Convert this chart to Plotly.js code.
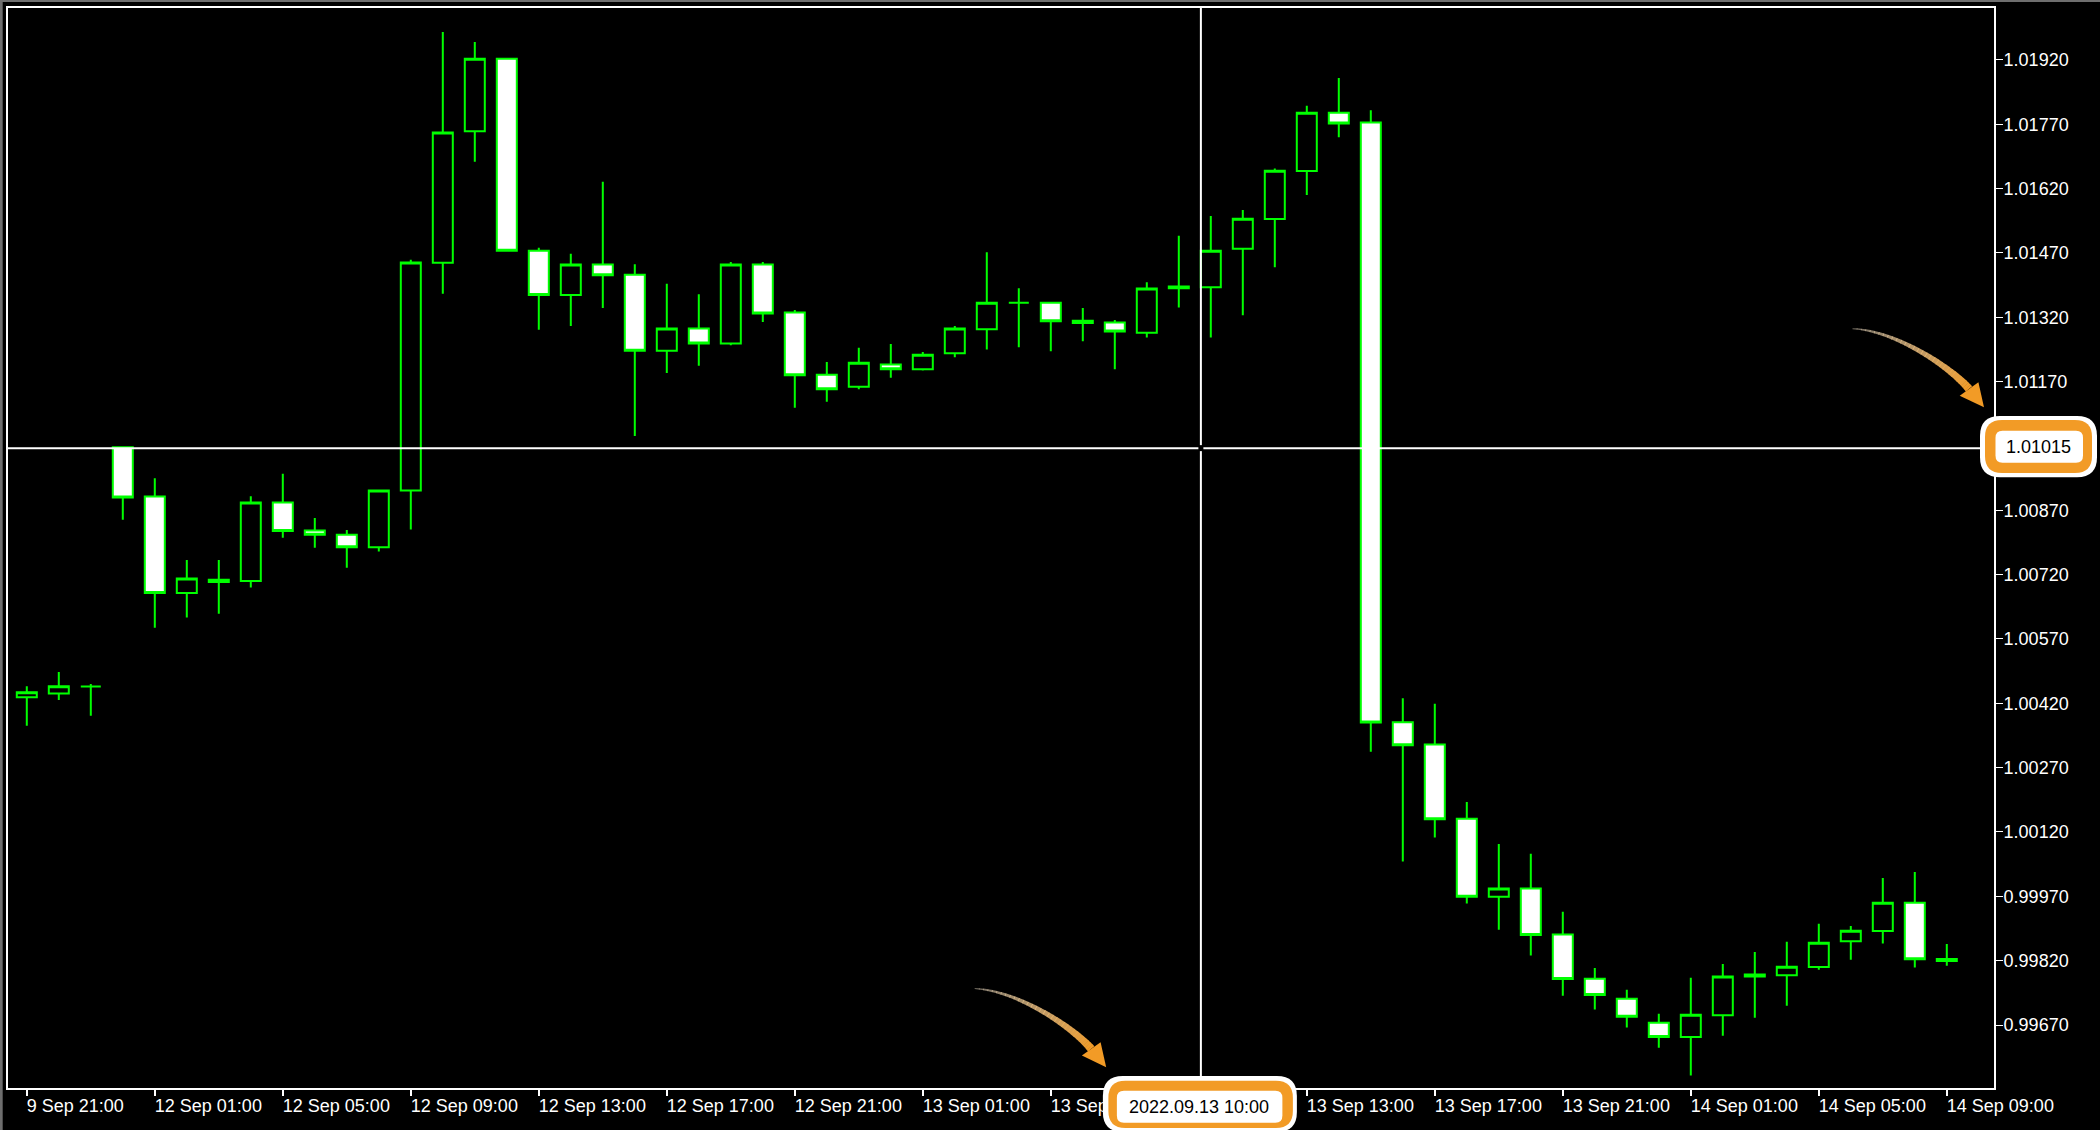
<!DOCTYPE html>
<html>
<head>
<meta charset="utf-8">
<script src="https://cdn.plot.ly/plotly-3.0.1.min.js"></script>
<style>
html,body{margin:0;padding:0;background:#000;}
#chart{width:2100px;height:1138px;}
</style>
</head>
<body>
<div id="chart"></div>
<script>
// ---------------- DATA (H1 candles) ----------------
const times = [
  "2022.09.09 21:00","2022.09.09 22:00","2022.09.09 23:00",
  "2022.09.12 00:00","2022.09.12 01:00","2022.09.12 02:00","2022.09.12 03:00","2022.09.12 04:00",
  "2022.09.12 05:00","2022.09.12 06:00","2022.09.12 07:00","2022.09.12 08:00","2022.09.12 09:00",
  "2022.09.12 10:00","2022.09.12 11:00","2022.09.12 12:00","2022.09.12 13:00","2022.09.12 14:00",
  "2022.09.12 15:00","2022.09.12 16:00","2022.09.12 17:00","2022.09.12 18:00","2022.09.12 19:00",
  "2022.09.12 20:00","2022.09.12 21:00","2022.09.12 22:00","2022.09.12 23:00",
  "2022.09.13 00:00","2022.09.13 01:00","2022.09.13 02:00","2022.09.13 03:00","2022.09.13 04:00",
  "2022.09.13 05:00","2022.09.13 06:00","2022.09.13 07:00","2022.09.13 08:00","2022.09.13 09:00",
  "2022.09.13 10:00","2022.09.13 11:00","2022.09.13 12:00","2022.09.13 13:00","2022.09.13 14:00",
  "2022.09.13 15:00","2022.09.13 16:00","2022.09.13 17:00","2022.09.13 18:00","2022.09.13 19:00",
  "2022.09.13 20:00","2022.09.13 21:00","2022.09.13 22:00","2022.09.13 23:00",
  "2022.09.14 00:00","2022.09.14 01:00","2022.09.14 02:00","2022.09.14 03:00","2022.09.14 04:00",
  "2022.09.14 05:00","2022.09.14 06:00","2022.09.14 07:00","2022.09.14 08:00","2022.09.14 09:00"
];
const openP = [
  1.00434,1.00443,1.00459,1.01017,1.00902,1.00677,1.00708,1.00705,1.00888,1.00823,
  1.00813,1.00784,1.00916,1.01447,1.01754,1.01923,1.01475,1.01372,1.01443,1.01419,
  1.01242,1.01294,1.01259,1.01443,1.01331,1.01186,1.01158,1.01210,1.01199,1.01236,
  1.01292,1.01354,1.01354,1.01312,1.01308,1.01284,1.01388,1.01390,1.01480,1.01549,
  1.01661,1.01797,1.01774,1.00376,1.00324,1.00151,0.99969,0.99988,0.99881,0.99778,
  0.99731,0.99675,0.99642,0.99693,0.99783,0.99786,0.99805,0.99865,0.99889,0.99955,
  0.99824
];
const highP = [
  1.00460,1.00493,1.00465,1.01017,1.00945,1.00754,1.00754,1.00903,1.00955,1.00852,
  1.00824,1.00916,1.01454,1.01985,1.01962,1.01923,1.01482,1.01468,1.01636,1.01444,
  1.01398,1.01374,1.01449,1.01449,1.01337,1.01216,1.01249,1.01258,1.01239,1.01300,
  1.01472,1.01388,1.01356,1.01342,1.01314,1.01402,1.01510,1.01556,1.01570,1.01667,
  1.01813,1.01878,1.01803,1.00432,1.00419,1.00190,1.00092,1.00069,0.99934,0.99803,
  0.99752,0.99696,0.99780,0.99812,0.99840,0.99864,0.99906,0.99901,1.00013,1.00027,
  0.99859
];
const lowP = [
  1.00368,1.00428,1.00391,1.00848,1.00596,1.00620,1.00629,1.00690,1.00806,1.00783,
  1.00736,1.00774,1.00825,1.01375,1.01683,1.01475,1.01291,1.01300,1.01342,1.01043,
  1.01190,1.01207,1.01255,1.01309,1.01109,1.01123,1.01152,1.01179,1.01196,1.01227,
  1.01245,1.01250,1.01241,1.01264,1.01199,1.01273,1.01343,1.01273,1.01325,1.01437,
  1.01605,1.01740,1.00307,1.00051,1.00107,0.99953,0.99892,0.99832,0.99738,0.99706,
  0.99664,0.99617,0.99552,0.99645,0.99687,0.99715,0.99799,0.99822,0.99860,0.99804,
  0.99808
];
const closeP = [
  1.00446,1.00460,1.00459,1.00900,1.00677,1.00711,1.00703,1.00888,1.00822,1.00813,
  1.00784,1.00916,1.01448,1.01751,1.01923,1.01475,1.01372,1.01443,1.01418,1.01242,
  1.01294,1.01259,1.01443,1.01329,1.01185,1.01152,1.01214,1.01199,1.01233,1.01294,
  1.01354,1.01354,1.01311,1.01307,1.01287,1.01387,1.01392,1.01475,1.01550,1.01662,
  1.01797,1.01772,1.00375,1.00322,1.00150,0.99969,0.99988,0.99880,0.99777,0.99740,
  0.99689,0.99642,0.99694,0.99783,0.99788,0.99806,0.99862,0.99890,0.99955,0.99823,
  0.99819
];
const tickIndex  = [0,4,8,12,16,20,24,28,32,36,40,44,48,52,56,60];
// the 13 Sep 09:00 label sits entirely under the time callout in the reference
const tickLabels = ["9 Sep 21:00","12 Sep 01:00","12 Sep 05:00","12 Sep 09:00","12 Sep 13:00",
  "12 Sep 17:00","12 Sep 21:00","13 Sep 01:00","13 Sep 05:00","","13 Sep 13:00",
  "13 Sep 17:00","13 Sep 21:00","14 Sep 01:00","14 Sep 05:00","14 Sep 09:00"];
const yTick0 = 0.99670;
const yTickStep = 0.00150;
const crosshairPrice = 1.01015;
const crosshairX = 36.69;          // mouse position, in bar units
const crosshairBar = 37;           // bar whose time is shown
// -------------------------------------------------------------------------

const FONT = '"Liberation Sans", Arial, sans-serif';
const ORANGE = '#F29B26';
const M = {l: 8, r: 106, t: 8, b: 50};

function pxShape(xref, xanchor, yref, yanchor, path, fill, lineColor, lineWidth) {
  return {type: 'path', layer: 'above', xref: xref, yref: yref,
    xsizemode: 'pixel', ysizemode: 'pixel', xanchor: xanchor, yanchor: yanchor,
    path: path, fillcolor: fill,
    line: {color: lineColor || fill, width: lineWidth || 0}};
}
function rr(x0, y0, x1, y1, r) {
  return `M${x0 + r},${y0} L${x1 - r},${y0} Q${x1},${y0} ${x1},${y0 + r} L${x1},${y1 - r} ` +
    `Q${x1},${y1} ${x1 - r},${y1} L${x0 + r},${y1} Q${x0},${y1} ${x0},${y1 - r} ` +
    `L${x0},${y0 + r} Q${x0},${y0} ${x0 + r},${y0} Z`;
}
function absRect(X0, Y0, X1, Y1, color) {
  const p = `M${X0 - M.l},${M.t - Y0} L${X1 - M.l},${M.t - Y0} L${X1 - M.l},${M.t - Y1} L${X0 - M.l},${M.t - Y1} Z`;
  return pxShape('paper', 0, 'paper', 1, p, color);
}
function arrowShapes(xref, xanchor, yref, yanchor, tipX, tipY) {
  const P0 = [-131.5, -78.7], C1 = [-86.5, -76.7], C2 = [-30.8, -37.8], P3 = [-15, -18.4];
  const pt = t => { const u = 1 - t;
    return [u*u*u*P0[0] + 3*u*u*t*C1[0] + 3*u*t*t*C2[0] + t*t*t*P3[0],
            u*u*u*P0[1] + 3*u*u*t*C1[1] + 3*u*t*t*C2[1] + t*t*t*P3[1]]; };
  const der = t => { const u = 1 - t;
    return [3*u*u*(C1[0]-P0[0]) + 6*u*t*(C2[0]-C1[0]) + 3*t*t*(P3[0]-C2[0]),
            3*u*u*(C1[1]-P0[1]) + 6*u*t*(C2[1]-C1[1]) + 3*t*t*(P3[1]-C2[1])]; };
  const sides = t => { const p = pt(t), d = der(t), L = Math.hypot(d[0], d[1]);
    const n = [-d[1] / L, d[0] / L]; const w = 0.5 + 3.6 * Math.pow(t, 0.9);
    return [[p[0] + n[0]*w, p[1] + n[1]*w], [p[0] - n[0]*w, p[1] - n[1]*w]]; };
  const cv = p => `${(tipX + p[0]).toFixed(2)},${(tipY - p[1]).toFixed(2)}`;
  const out = [];
  const N = 32;
  for (let i = 0; i < N; i++) {
    const t0 = i / N, t1 = Math.min(1, (i + 1.15) / N), tm = (i + 0.5) / N;
    const a = sides(t0), b = sides(t1);
    const r = Math.round(255 + (242 - 255) * tm), g = Math.round(240 + (155 - 240) * tm),
          bl = Math.round(215 + (38 - 215) * tm);
    const al = (0.35 + 0.65 * Math.pow(tm, 0.6)).toFixed(3);
    const col = `rgba(${r},${g},${bl},${al})`;
    out.push(pxShape(xref, xanchor, yref, yanchor,
      `M${cv(a[0])} L${cv(b[0])} L${cv(b[1])} L${cv(a[1])} Z`, col));
  }
  out.push(pxShape(xref, xanchor, yref, yanchor,
    `M${cv([0, 0])} L${cv([-24.3, -11.7])} L${cv([-5.6, -25])} Z`, ORANGE));
  return out;
}

const trace = {
  type: 'candlestick',
  x: times, open: openP, high: highP, low: lowP, close: closeP,
  increasing: {line: {color: '#00FF00', width: 2}, fillcolor: '#000000'},
  decreasing: {line: {color: '#00FF00', width: 2}, fillcolor: '#FFFFFF'},
  whiskerwidth: 0,
  hoverinfo: 'skip',
  showlegend: false
};

const shapes = [];
shapes.push({type: 'line', layer: 'above', xref: 'x', yref: 'paper',
  x0: crosshairX, x1: crosshairX, y0: 0, y1: 1, line: {color: '#FFFFFF', width: 2}});
shapes.push({type: 'line', layer: 'above', xref: 'paper', yref: 'y',
  x0: 0, x1: 1, y0: crosshairPrice, y1: crosshairPrice, line: {color: '#FFFFFF', width: 2}});
shapes.push(pxShape('x', crosshairX, 'y', crosshairPrice, 'M-2.5,-3 L2.5,-3 L2.5,3 L-2.5,3 Z', '#000000'));
arrowShapes('x', crosshairX, 'paper', 0, -94.7, 20.7).forEach(s => shapes.push(s));
arrowShapes('paper', 1, 'y', crosshairPrice, -10, 40.8).forEach(s => shapes.push(s));
shapes.push(pxShape('paper', 1, 'y', crosshairPrice, rr(-14, -29.2, 103, 32.1, 20), '#FFFFFF'));
shapes.push(pxShape('paper', 1, 'y', crosshairPrice, rr(-9, -24.9, 98, 28.1, 17), ORANGE));
shapes.push(pxShape('paper', 1, 'y', crosshairPrice, rr(1.5, -14.6, 89, 17.4, 7), '#FFFFFF'));
shapes.push(pxShape('x', crosshairX, 'paper', 0, rr(-98, -44, 96, 12, 20), '#FFFFFF'));
shapes.push(pxShape('x', crosshairX, 'paper', 0, rr(-92.5, -40, 92, 7.3, 17), ORANGE));
shapes.push(pxShape('x', crosshairX, 'paper', 0, rr(-84, -34.7, 81.5, -2.7, 7), '#FFFFFF'));
shapes.push(absRect(0, 0, 2100, 2, '#6E6E6E'));
shapes.push(absRect(0, 0, 2.7, 1130, '#6E6E6E'));
shapes.push(absRect(0, 1130, 2100, 1138, '#FFFFFF'));

const annotations = [
  {xref: 'paper', x: 1, xshift: 44, yref: 'y', y: crosshairPrice, yshift: 1.4,
   xanchor: 'center', yanchor: 'middle', showarrow: false,
   text: crosshairPrice.toFixed(5), font: {family: FONT, size: 18, color: '#000000'}},
  {xref: 'x', x: crosshairX, xshift: -2, yref: 'paper', y: 0, yshift: -18.7,
   xanchor: 'center', yanchor: 'middle', showarrow: false,
   text: times[crosshairBar], font: {family: FONT, size: 18, color: '#000000'}}
];

const layout = {
  width: 2100, height: 1138,
  margin: {l: M.l, r: M.r, t: M.t, b: M.b, pad: 0},
  paper_bgcolor: '#000000', plot_bgcolor: '#000000',
  showlegend: false, dragmode: false,
  boxgap: 0.375, boxgroupgap: 0,
  font: {family: FONT, size: 18, color: '#FFFFFF'},
  xaxis: {
    type: 'category', autorange: false, range: [-0.5875, 61.475],
    rangeslider: {visible: false},
    tickmode: 'array', tickvals: tickIndex.map(i => times[i]), ticktext: tickLabels,
    ticks: 'outside', ticklen: 6, tickwidth: 2, tickcolor: '#FFFFFF',
    ticklabelposition: 'outside right', ticklabelshift: -2,
    tickfont: {family: FONT, size: 18, color: '#FFFFFF'},
    showgrid: false, zeroline: false,
    showline: true, linecolor: '#FFFFFF', linewidth: 2, mirror: true,
    fixedrange: true
  },
  yaxis: {
    side: 'right', autorange: false, range: [0.995231, 1.020412],
    tickmode: 'linear', tick0: yTick0, dtick: yTickStep, tickformat: '.5f',
    ticks: 'outside', ticklen: 7, tickwidth: 1, tickcolor: '#FFFFFF',
    ticklabelstandoff: -3,
    tickfont: {family: FONT, size: 18, color: '#FFFFFF'},
    showgrid: false, zeroline: false,
    showline: true, linecolor: '#FFFFFF', linewidth: 2, mirror: true,
    fixedrange: true
  },
  shapes: shapes,
  annotations: annotations
};

Plotly.newPlot('chart', [trace], layout, {staticPlot: true, displayModeBar: false});
</script>
</body>
</html>
